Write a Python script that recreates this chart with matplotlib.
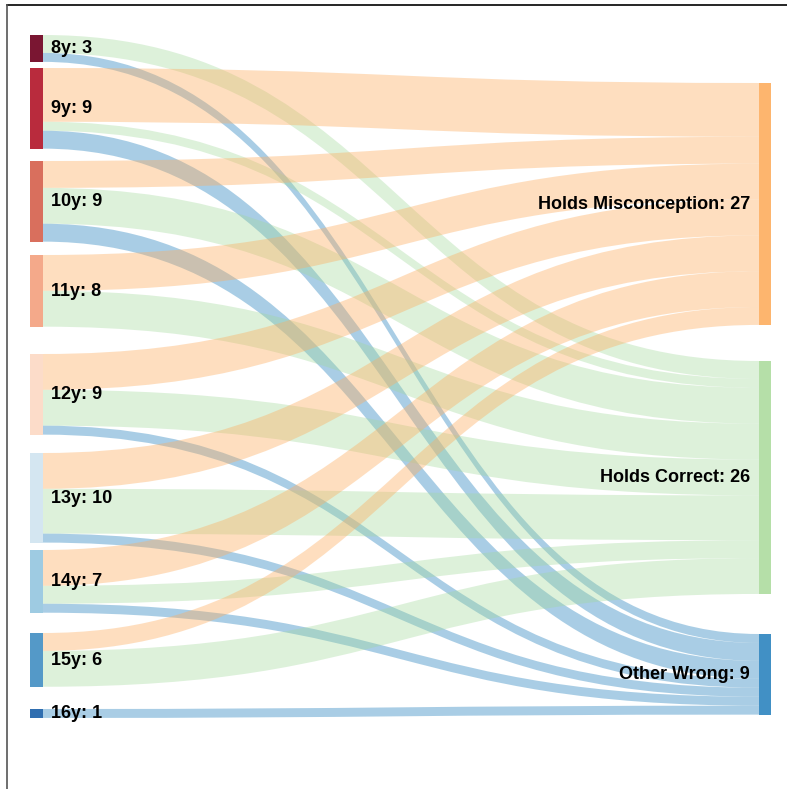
import matplotlib
matplotlib.use("Agg")
import matplotlib.pyplot as plt
from matplotlib.path import Path
from matplotlib.patches import PathPatch, Rectangle

# ---- data ----
sources = ["8y", "9y", "10y", "11y", "12y", "13y", "14y", "15y", "16y"]
targets = ["Holds Misconception", "Holds Correct", "Other Wrong"]
misconception = [0, 6, 3, 4, 4, 4, 4, 2, 0]
correct = [2, 1, 4, 4, 4, 5, 2, 4, 0]
other_wrong = [1, 2, 2, 0, 1, 1, 1, 0, 1]

# ---- styles / layout ----
source_colors = ["#7a1632", "#b92b3d", "#d96f5d", "#f4a98a", "#fcdcc9",
                 "#d4e6f1", "#9ecbe2", "#5499c8", "#2f6eb0"]
target_colors = ["#fdb56e", "#b5dfa8", "#4190c5"]
link_colors = [(253/255, 174/255, 97/255, 0.40),
               (161/255, 217/255, 155/255, 0.36),
               (66/255, 146/255, 198/255, 0.45)]
left_tops = [35, 68, 161, 255, 354, 453, 550, 633, 709]
right_tops = [83, 361, 634]
scale = 8.96
lx0, lw = 30, 13
rx0, rw = 759, 12

W, H = 787, 789
fig = plt.figure(figsize=(W / 100, H / 100), dpi=100)
ax = fig.add_axes([0, 0, 1, 1])
ax.set_xlim(0, W)
ax.set_ylim(H, 0)
ax.axis("off")

flows = [misconception, correct, other_wrong]
src_tot = [sum(f[i] for f in flows) for i in range(len(sources))]
tgt_tot = [sum(f) for f in flows]

# links
tgt_off = [0.0] * len(targets)
src_off = [0.0] * len(sources)
for i in range(len(sources)):
    for j in range(len(targets)):
        v = flows[j][i]
        if v <= 0:
            continue
        y0a = left_tops[i] + src_off[i] * scale
        y0b = y0a + v * scale
        y1a = right_tops[j] + tgt_off[j] * scale
        y1b = y1a + v * scale
        src_off[i] += v
        tgt_off[j] += v
        xa = lx0 + lw
        xb = rx0
        xm = (xa + xb) / 2
        verts = [(xa, y0a), (xm, y0a), (xm, y1a), (xb, y1a),
                 (xb, y1b), (xm, y1b), (xm, y0b), (xa, y0b), (xa, y0a)]
        codes = [Path.MOVETO, Path.CURVE4, Path.CURVE4, Path.CURVE4,
                 Path.LINETO, Path.CURVE4, Path.CURVE4, Path.CURVE4, Path.CLOSEPOLY]
        ax.add_patch(PathPatch(Path(verts, codes), facecolor=link_colors[j],
                               edgecolor="none", zorder=1))

# nodes
font = ["Liberation Sans", "DejaVu Sans"]
for i, name in enumerate(sources):
    h = src_tot[i] * scale
    ax.add_patch(Rectangle((lx0, left_tops[i]), lw, h, facecolor=source_colors[i],
                           edgecolor="none", zorder=2))
    ax.text(lx0 + lw + 8, left_tops[i] + h / 2 + 0.5, f"{name}: {src_tot[i]}",
            ha="left", va="center", fontsize=13, fontweight="bold",
            family=font, color="#000000", zorder=3)
for j, name in enumerate(targets):
    h = tgt_tot[j] * scale
    ax.add_patch(Rectangle((rx0, right_tops[j]), rw, h, facecolor=target_colors[j],
                           edgecolor="none", zorder=2))
    ax.text(rx0 - 9, right_tops[j] + h / 2 + 0.5, f"{name}: {tgt_tot[j]}",
            ha="right", va="center", fontsize=13, fontweight="bold",
            family=font, color="#000000", zorder=3)

# frame (partially visible)
ax.plot([6.5, W + 5], [4.5, 4.5], color="black", lw=1.2, zorder=4, clip_on=False)
ax.plot([6.5, 6.5], [4.5, H + 5], color="#555555", lw=1.2, zorder=4, clip_on=False)

fig.savefig("out.png", dpi=100)
